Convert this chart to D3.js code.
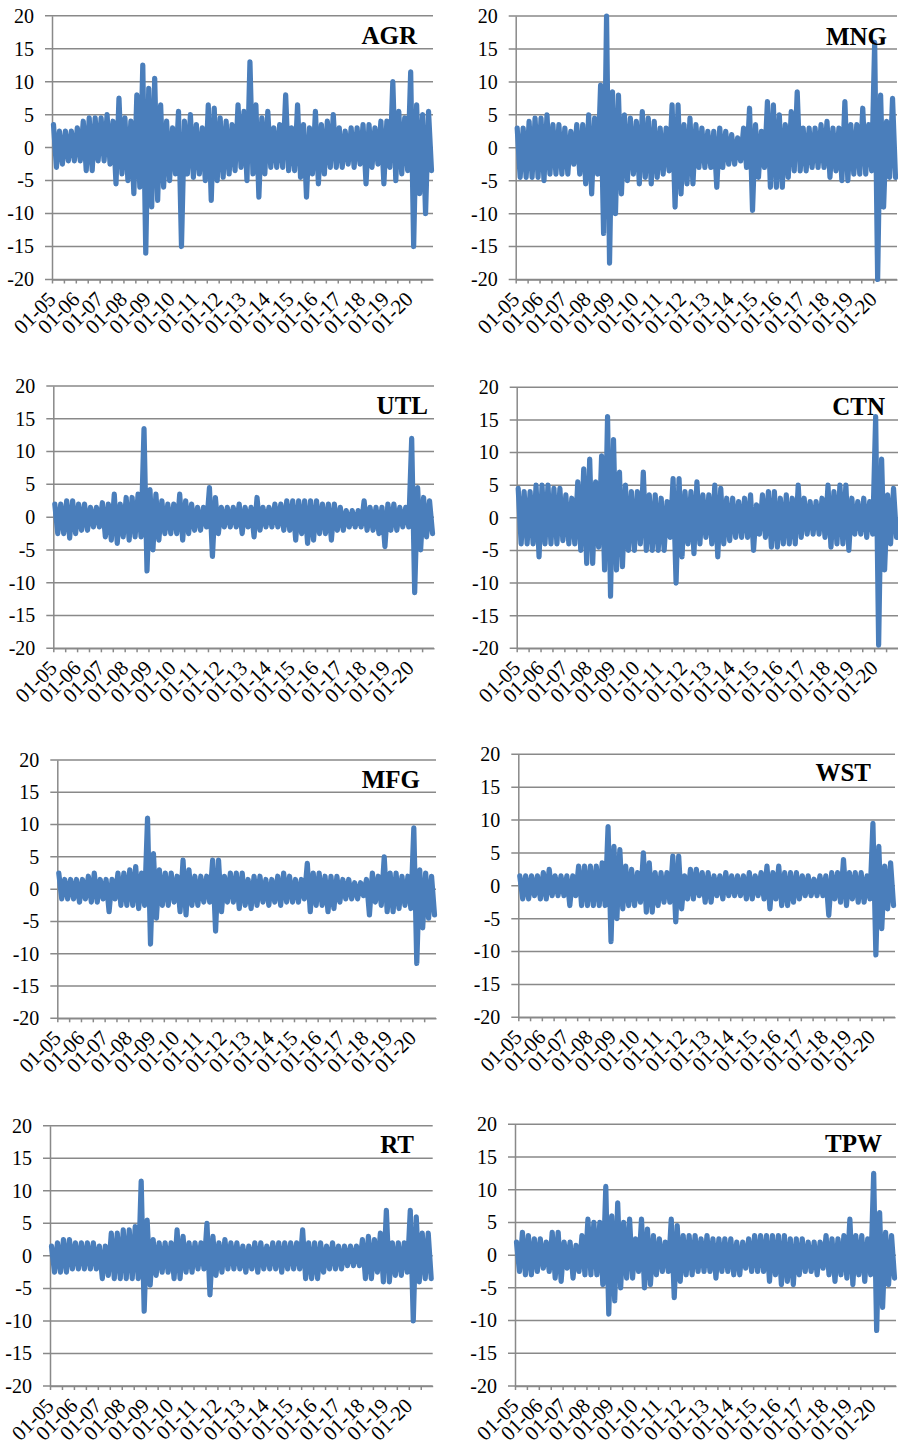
<!DOCTYPE html>
<html lang="en">
<head>
<meta charset="utf-8">
<title>Sector returns 2005-2020</title>
<script src="https://cdn.jsdelivr.net/npm/d3@7/dist/d3.min.js"></script>
<style>
  body { margin: 0; background: #fff; }
  svg text { font-family: "Liberation Serif", "Times New Roman", serif; fill: #000; }
</style>
</head>
<body>
<script>
// quarterly high / low of the daily series, 2005Q1 .. 2020Q4
var agrHi = [3.5,2.5,2.5,2.5, 3,4,4.5,4.5, 4.5,5,4,7.5, 4.5,4,8,12.5, 9,10.5,6.5,4, 3,5.5,4,5, 3.5,3,6.5,6, 4.5,4,3.5,6.5,
             5.5,13,6.5,4.5, 5.5,3,3.5,8, 3,6.5,3.5,3, 5.5,3.5,4,5, 3,2.5,3,3, 3.5,3.5,3,4, 4,10,5.5,4.5, 11.5,6.5,5,5.5];
var agrLo = [-3,-2.5,-2,-2, -2,-3.5,-3.5,-2, -2,-2.5,-5.5,-4, -5,-7,-6,-16, -9,-8,-6,-5, -4,-15,-4,-4.5, -4,-5,-8,-5, -4.5,-4,-3.5,-3,
             -5,-4,-7.5,-4, -3,-3,-3,-3.5, -3.5,-4.5,-7.5,-4, -5.5,-4,-3,-3, -3,-2.5,-3,-2.5, -5.5,-3,-2.5,-5.5, -3,-5,-4,-3.5, -15,-7,-10,-3.5];

var mngHi = [3,3,4,4.5, 4.5,5,3.5,3.5, 3,2.5,3.5,3.5, 5,4.5,9.5,20, 8.5,8,5,4.5, 4,5.5,4.5,4, 3,3,6.5,6.5, 3.5,4.5,3.5,3,
             2.5,2.5,3,2.5, 2,1.5,3,6, 3.5,2.5,7,6.5, 5,3.5,5.5,8.5, 3,3,3,3.5, 4,3,3,7, 3.5,3.5,6,3.5, 16,8,4,7.5];
var mngLo = [-4.5,-4.5,-4.5,-4.5, -5,-4,-4,-4, -4,-2.5,-4,-5.5, -7,-4,-13,-17.5, -10,-7,-5,-4, -5.5,-4.5,-5.5,-4.5, -4,-3.5,-9,-7, -5.5,-5.5,-3,-3,
             -3,-6,-3,-2.5, -2.5,-2,-3,-9.5, -4.5,-3,-6,-6, -6,-4.5,-3.5,-3.5, -3.5,-3,-3,-3, -4.5,-3.5,-5,-5, -4,-4,-4,-3.5, -20,-9,-4.5,-4.5];

var utlHi = [2,2,2.5,2.5, 2,2,1.5,1.5, 2.2,2,3.5,2, 3,3,3.5,13.5, 4.2,3.5,2.5,2, 2,3.5,2.5,2, 1.5,1.5,4.5,3, 1.5,1.5,1.5,2,
             1.5,1.5,3,1.5, 1.5,2,2,2.5, 2.5,2.5,2.5,2.5, 2.5,2,2,2, 1.5,1,1,1, 2.5,1.5,1.5,1.5, 2,2,1.5,1.5, 12,4.5,3,2.5];
var utlLo = [-2.5,-2.5,-3.2,-2.5, -2,-2,-1.5,-1.5, -3,-3.5,-4,-3, -3.5,-3,-3,-8.2, -5,-3.5,-2.5,-2.5, -2.5,-3.5,-2.5,-2, -2,-1.5,-6,-2.5, -1.5,-1.5,-1.5,-2.5,
             -1.5,-3,-2,-1.5, -1.5,-1.5,-2,-2, -3.5,-2.5,-4,-3.5, -2.5,-2.5,-3.5,-2, -2,-1.5,-1.5,-1.5, -2,-2,-2.5,-4.5, -2,-2,-1.5,-1.5, -11.5,-5,-3,-2.5];

var ctnHi = [4.5,4,4,5, 5,5,4.5,4.5, 3.5,3,5.5,7.5, 9,5.5,9.5,15.5, 12,7,5,4, 4,7,3.5,3.5, 3,2.5,6,6, 4,4,5.5,3.5,
             3.5,5,4.5,3, 3,2.5,3,3.5, 2,3.5,4,4, 3,3.5,3,5, 3,2.5,2.5,3, 5,4,5,5, 3,2.5,3,2.5, 15.5,9,3.5,4.5];
var ctnLo = [-4,-4,-4,-6, -4,-4,-4,-3.5, -4,-4,-5,-7, -7,-4.5,-8,-12, -8,-7.5,-5,-5, -4,-5,-5,-5, -5,-3,-10,-6, -4,-5.5,-4,-3,
             -4,-6,-4,-3.5, -3,-3,-3,-5, -2.5,-3,-4.5,-4.5, -4,-4,-4,-3, -2.5,-2.5,-2.5,-3, -4.5,-4,-4,-5, -2.5,-2.5,-3,-2.5, -19.5,-8,-4,-3];

var mfgHi = [2.5,1.5,1.5,1.5, 1.5,2,2.5,1.5, 1.5,1.5,2.5,2.5, 3,3.5,2.5,11, 5.5,3,2.5,2.5, 2,4.5,3,2, 2,2,4.5,4.5, 2,2.5,2.5,2.5,
             1.5,2,2,1.5, 1.5,2,2.5,2, 1.5,1.5,4,2.5, 2.5,2,2,2, 1.5,1.5,1,1, 1.5,2.5,2,5, 2.5,2.5,2,2, 9.5,3,2.5,2];
var mfgLo = [-1.5,-1.5,-1.5,-2, -1.5,-2,-2,-1.5, -3.5,-1.5,-2.5,-2.5, -2.5,-3,-2.5,-8.5, -4.5,-2.5,-2.5,-2, -3.5,-4,-2.5,-2.5, -2,-2,-6.5,-3.5, -2,-2,-3,-2.5,
             -3,-2.5,-2,-2.5, -2,-2.5,-2,-2, -2,-1.5,-3.5,-2.5, -2.5,-3.5,-3,-2, -1.5,-1.5,-1.5,-1, -4,-2,-2.5,-3.5, -3.5,-3,-2.5,-3, -11.5,-6,-4.5,-4];

var wstHi = [1.5,1.5,1.5,1.5, 2,2.5,1.5,1.5, 1.5,1.5,3,3, 3,3,3.5,9, 6,5.5,3,2.5, 2,5,3.5,2, 2,2,4.5,4.5, 1.5,2.5,2.5,2,
             2,1.5,1.5,2, 1.5,1.5,1.5,2, 1.5,2,3,2, 3,2,2,2, 1.5,1.5,1,1.5, 1.5,2,2,4, 2,2,2,1.5, 9.5,6,3,3.5];
var wstLo = [-2,-2,-1.5,-2, -2,-1.5,-1.5,-1.5, -3,-1.5,-3,-3, -3,-3,-3,-8.5, -5,-3.5,-3,-3, -2.5,-4,-4,-3, -2.5,-2.5,-5.5,-3.5, -2,-2,-1.5,-2.5,
             -2.5,-1.5,-2,-1.5, -1.5,-1.5,-2,-2, -1.5,-2,-3.5,-2, -3,-3,-2.5,-2, -1.5,-1.5,-1.5,-1.5, -4.5,-2,-2.5,-3, -2,-2.5,-2.5,-2, -10.5,-6.5,-3.5,-3];

var rtHi = [1.5,2,2.5,2.5, 2,2,2,2, 1.5,1.5,3.5,3.5, 4,4,4.5,11.5, 5.5,2.5,2,2, 2,4,3,2, 2,2,5,3, 2,2.5,2,2,
            1.5,1.5,2,2, 1.5,2,2,2, 2,2,4,2, 2,2,1.5,2, 1.5,1.5,1.5,1.5, 2.5,3,2.5,3.5, 7,2,2,2, 7,6,3.5,3.5];
var rtLo = [-2.5,-2.5,-2.5,-2, -2,-2,-2,-2, -3.5,-3,-3.5,-3.5, -3.5,-3.5,-3.5,-8.5, -4.5,-3,-2.5,-2.5, -3.5,-3.5,-2.5,-2.5, -2,-2,-6,-3, -2.5,-2,-2,-2,
            -2.5,-2,-2.5,-2, -2,-2,-2.5,-2, -2,-2,-3.5,-3.5, -3.5,-2.5,-2,-2, -2,-1.5,-1.5,-1.5, -3.5,-3.5,-2.5,-4, -4,-3,-3,-2.5, -10,-4,-3.5,-3.5];

var tpwHi = [2,3.5,3,2.5, 2.5,2,3.5,3.5, 2,2,1.5,3, 5.5,5,5,10.5, 6,8,5,5.5, 2.5,5.5,4,3, 2.5,2,5.5,4.5, 3,3,3,2.5,
             3,2.5,2.5,2.5, 2.5,2,2,2.5, 3,3,3,3, 3,3,2.5,2.5, 2.5,2,2,2, 3,2.5,2.5,3, 5.5,3,3,2.5, 12.5,6.5,3.5,3];
var tpwLo = [-2.5,-3,-3,-2.5, -2,-2.5,-3.5,-4, -2,-3.5,-2.5,-3, -3,-3,-4.5,-9, -7,-5,-3.5,-3.5, -2.5,-5,-4.5,-3, -2.5,-2.5,-6.5,-4, -3,-3,-2.5,-2.5,
             -2.5,-3.5,-2.5,-2.5, -3,-3,-2,-2.5, -2.5,-2.5,-4,-3, -4.5,-4,-4.5,-3, -2.5,-2.5,-3,-2, -3,-4,-3,-3.5, -4.5,-3,-4,-3, -11.5,-8,-4.5,-3.5];

var yearLabels = ["01-05","01-06","01-07","01-08","01-09","01-10","01-11","01-12",
                  "01-13","01-14","01-15","01-16","01-17","01-18","01-19","01-20"];
var yTicks = [-20,-15,-10,-5,0,5,10,15,20];
var startYear = 2005, endYear = 2021;

// panel frames (pixel layout)
var panels = [
  {name:"AGR", hi:agrHi, lo:agrLo, left:52,    right:433, top:15.7,   bottom:279.5,  tx:417, ty:43.5},
  {name:"MNG", hi:mngHi, lo:mngLo, left:515.7, right:897, top:16,     bottom:279.5,  tx:887, ty:44.5},
  {name:"UTL", hi:utlHi, lo:utlLo, left:53.3,  right:434, top:386,    bottom:648.3,  tx:428, ty:414},
  {name:"CTN", hi:ctnHi, lo:ctnLo, left:516.7, right:898, top:387.3,  bottom:648.3,  tx:885, ty:415},
  {name:"MFG", hi:mfgHi, lo:mfgLo, left:57.3,  right:436, top:760,    bottom:1018.3, tx:420, ty:788},
  {name:"WST", hi:wstHi, lo:wstLo, left:518.3, right:895, top:754.3,  bottom:1017.3, tx:871, ty:781},
  {name:"RT",  hi:rtHi,  lo:rtLo,  left:50,    right:432.7, top:1125.7, bottom:1386, tx:414, ty:1153},
  {name:"TPW", hi:tpwHi, lo:tpwLo, left:515,   right:896, top:1124.3, bottom:1386,   tx:882, ty:1152}
];

var w = 898, h = 1446;
var gridColor = "#898989";
var lineColor = "#4a7ebb";

var svg = d3.select("body").append("svg")
    .attr("width", w)
    .attr("height", h);

panels.forEach(function(p) {
  var x = d3.scaleLinear().domain([startYear, endYear]).range([p.left, p.right]);
  var y = d3.scaleLinear().domain([-20, 20]).range([p.bottom, p.top]);
  var g = svg.append("g");

  // horizontal gridlines, sticking out a little to the left like tick marks
  g.selectAll("line.grid")
    .data(yTicks)
    .enter().append("line")
    .attr("class", "grid")
    .attr("x1", p.left - 7)
    .attr("x2", p.right)
    .attr("y1", function(d) { return y(d); })
    .attr("y2", function(d) { return y(d); })
    .attr("stroke", gridColor)
    .attr("stroke-width", 1.5);

  // y labels (plain hyphen for negatives, as in the source)
  var yAxis = d3.axisLeft(y).tickValues(yTicks).tickSize(0).tickPadding(18)
    .tickFormat(function(d) { return String(d); });
  var ya = g.append("g")
    .attr("transform", "translate(" + p.left + ",0)")
    .call(yAxis);
  ya.select(".domain").attr("stroke", gridColor).attr("stroke-width", 1.5);
  ya.selectAll("text")
    .attr("font-size", "20px")
    .attr("font-family", "Liberation Serif, Times New Roman, serif");

  // x axis: half-year tick marks
  var halfYears = d3.range(0, (endYear - startYear) * 2).map(function(k) { return startYear + k / 2; });
  var xAxis = d3.axisBottom(x).tickValues(halfYears).tickSize(4).tickSizeOuter(0).tickFormat("");
  var xa = g.append("g")
    .attr("transform", "translate(0," + p.bottom + ")")
    .call(xAxis);
  xa.select(".domain").attr("stroke", gridColor).attr("stroke-width", 1.5);
  xa.selectAll(".tick line").attr("stroke", gridColor).attr("stroke-width", 1.5);

  // rotated year labels
  g.selectAll("text.xl")
    .data(yearLabels)
    .enter().append("text")
    .attr("class", "xl")
    .attr("font-size", "21px")
    .attr("text-anchor", "end")
    .attr("transform", function(d, i) {
      return "translate(" + (x(startYear + i) + 5) + "," + (p.bottom + 21) + ") rotate(-45)";
    })
    .text(function(d) { return d; });

  // series: zig-zag through each quarter's high and low
  var pts = [];
  p.hi.forEach(function(v, i) {
    pts.push([startYear + (i + 0.25) / 4, v]);
    pts.push([startYear + (i + 0.75) / 4, p.lo[i]]);
  });
  var line = d3.line()
    .x(function(d) { return x(d[0]); })
    .y(function(d) { return y(d[1]); });
  g.append("path")
    .attr("d", line(pts))
    .attr("fill", "none")
    .attr("stroke", lineColor)
    .attr("stroke-width", 5.2)
    .attr("stroke-linejoin", "round")
    .attr("stroke-linecap", "round");

  // panel title
  g.append("text")
    .attr("x", p.tx)
    .attr("y", p.ty)
    .attr("text-anchor", "end")
    .attr("font-size", "25px")
    .attr("font-weight", "bold")
    .text(p.name);
});
</script>
</body>
</html>
